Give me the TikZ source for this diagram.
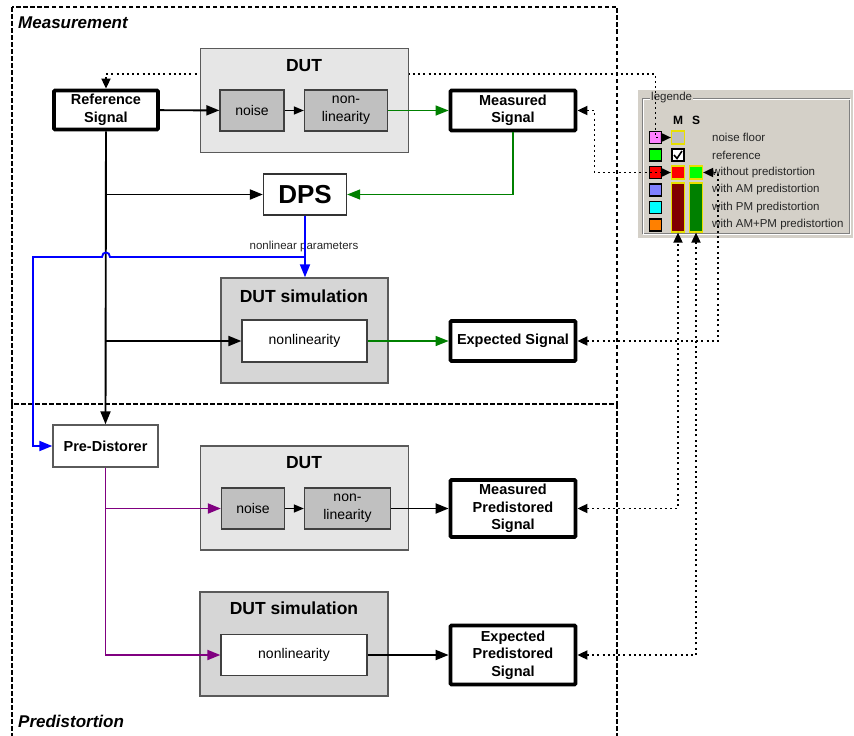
\documentclass[tikz,border=0pt]{standalone}
\usepackage{fontspec}
\setmainfont{Liberation Sans}
\usetikzlibrary{arrows.meta}
\definecolor{dutgray}{HTML}{E6E6E6}
\definecolor{blockgray}{HTML}{C0C0C0}
\definecolor{simgray}{HTML}{D6D6D6}
\definecolor{frame}{HTML}{5A5A5A}
\definecolor{sgreen}{HTML}{008000}
\definecolor{sblue}{HTML}{0000FF}
\definecolor{spurple}{HTML}{800080}
\definecolor{panel}{HTML}{D4D0C8}
\definecolor{legyellow}{HTML}{E8E000}
\definecolor{lpink}{HTML}{FF80FF}
\definecolor{lgreen}{HTML}{00FF00}
\definecolor{lred}{HTML}{FF0000}
\definecolor{lblue}{HTML}{8080FF}
\definecolor{lcyan}{HTML}{00FFFF}
\definecolor{lorange}{HTML}{FF8000}
\definecolor{dred}{HTML}{800000}
\definecolor{dgreen}{HTML}{008000}
\newcommand\fsz[2]{\fontsize{#1}{#2}\selectfont}
\pgfdeclarelayer{legendlayer}
\pgfdeclarelayer{behind}
\pgfsetlayers{legendlayer,behind,main}
\tikzset{
  region/.style={line width=1.6pt, dash pattern=on 4.5pt off 2.5pt},
  regiontitle/.style={anchor=west, inner sep=0pt, font=\bfseries\itshape\fsz{17}{20}},
  sigbox/.style={draw, line width=3.8pt, rounded corners=1pt, fill=white, align=center,
    inner sep=0pt, font=\bfseries\fsz{14.5}{17.5}},
  plainbox/.style={draw=frame, line width=1.4pt, fill=white, align=center, inner sep=0pt,
    font=\bfseries\fsz{14.5}{17.5}},
  dutbox/.style={draw=frame, line width=1.4pt, fill=dutgray, inner sep=0pt},
  simbox/.style={draw=frame, line width=1.4pt, fill=simgray, inner sep=0pt},
  subblock/.style={draw=black!75, line width=1.3pt, fill=blockgray, align=center, inner sep=0pt,
    font=\fsz{14}{18}},
  simblock/.style={draw=black!75, line width=1.3pt, fill=white, align=center, inner sep=0pt,
    font=\fsz{14}{18}},
  boxtitle/.style={inner sep=0pt, font=\bfseries\fsz{17.5}{20}},
  conn/.style={line width=1.9pt, -{Triangle[length=13pt,width=10pt]}},
  thinconn/.style={line width=1.5pt, -{Triangle[length=13pt,width=10pt]}},
  smallconn/.style={line width=1.4pt, -{Triangle[length=10pt,width=8pt]}},
  dotlink/.style={line width=1.8pt, dash pattern=on 2pt off 3.2pt,
    {Triangle[length=10pt,width=9pt]}-{Triangle[length=10pt,width=9pt]}},
  lsq/.style={draw=black, line width=1.2pt, minimum size=12pt, inner sep=0pt},
  msq/.style={draw=legyellow, line width=1.2pt, minimum size=13pt, inner sep=0pt},
  legtext/.style={anchor=west, inner sep=0pt, text=black!85, font=\fsz{11.5}{13}},
}
\begin{document}
\begin{tikzpicture}[x=1pt,y=-1pt]
\useasboundingbox (0,0) rectangle (854,736);

% ---------- legend panel ----------
\begin{pgfonlayer}{legendlayer}
  \fill[panel] (638,90) rectangle (853,238);
  \draw[gray, line width=0.8pt] (642,98) rectangle (849,233);
  \draw[white, line width=0.8pt] (643,99) rectangle (850,234);
  \node[fill=panel, inner sep=1pt, anchor=west, text=black!85, font=\fsz{11.5}{13}] (legtitle) at (650,98) {legende};
  \node[inner sep=0pt, font=\bfseries\fsz{12}{14}] (legM) at (678,120) {M};
  \node[inner sep=0pt, font=\bfseries\fsz{12}{14}] (legS) at (696,120) {S};
  % colour keys
  \node[lsq, fill=lpink]   (lc1) at (655.5,137.5) {};
  \node[lsq, fill=lgreen]  (lc2) at (655.5,155) {};
  \node[lsq, fill=lred]    (lc3) at (655.5,172.5) {};
  \node[lsq, fill=lblue]   (lc4) at (655.5,190) {};
  \node[lsq, fill=lcyan]   (lc5) at (655.5,207.5) {};
  \node[lsq, fill=lorange] (lc6) at (655.5,225) {};
  % measured / simulated selectors
  \node[msq, fill=blockgray] (lm1) at (678,137.5) {};
  \node[draw=black, line width=1.5pt, fill=white, minimum size=12pt, inner sep=0pt] (lm2) at (678,155) {};
  \draw[line width=1.6pt] (674,155) -- (677,158.5) -- (682,151);
  \node[msq, fill=lred]   (lm3) at (678,172.5) {};
  \node[msq, fill=lgreen] (ls3) at (696,172.5) {};
  \node[msq, fill=dred, minimum height=49pt]   (lmbar) at (678,207.5) {};
  \node[msq, fill=dgreen, minimum height=49pt] (lsbar) at (696,207.5) {};
  % labels
  \node[legtext] (lt1) at (712,137.5) {noise floor};
  \node[legtext] (lt2) at (712,155) {reference};
  \node[legtext] (lt3) at (712,172.5) {without predistortion};
  \node[legtext] (lt4) at (712,190) {with AM predistortion};
  \node[legtext] (lt5) at (712,207.5) {with PM predistortion};
  \node[legtext] (lt6) at (712,225) {with AM+PM predistortion};
\end{pgfonlayer}

% ---------- regions ----------
\draw[region] (12,7) rectangle (617,404);
\draw[region] (12,404) -- (12,736);
\draw[region] (617,404) -- (617,736);
\node[regiontitle] (meastitle) at (18,23) {Measurement};
\node[regiontitle] (predtitle) at (18,721) {Predistortion};

% ---------- measurement part ----------
\node[sigbox, minimum width=104pt, minimum height=39pt] (refsig) at (106,110) {Reference\\Signal};
\node[dutbox, minimum width=208pt, minimum height=104pt] (dut1) at (304.5,100.5) {};
\node[boxtitle] (dut1lbl) at (304,66) {DUT};
\node[subblock, minimum width=64pt, minimum height=41pt] (noise1) at (252,110.5) {noise};
\node[subblock, minimum width=83pt, minimum height=41pt] (nl1) at (346,110.5) {non-\\linearity};
\node[sigbox, minimum width=125pt, minimum height=40pt] (measig) at (513,110.5) {Measured\\Signal};
\node[draw=black!80, line width=1.3pt, fill=white, inner sep=0pt, minimum width=83pt, minimum height=41pt,
      font=\bfseries\fsz{26}{28}] (dps) at (305,194.5) {DPS};
\node[simbox, minimum width=167pt, minimum height=105pt] (sim1) at (304.5,330.5) {};
\node[boxtitle] (sim1lbl) at (304,296) {DUT simulation};
\node[simblock, minimum width=125pt, minimum height=42pt] (simnl1) at (304.5,341) {nonlinearity};
\node[sigbox, minimum width=125pt, minimum height=40pt] (expsig) at (513,341) {Expected Signal};
\node[inner sep=0pt, text=black!85, font=\fsz{11.5}{13}] (nlparam) at (304,247) {nonlinear parameters};

% ---------- predistortion part ----------
\node[plainbox, minimum width=105pt, minimum height=42pt] (predist) at (105.5,446) {Pre-Distorer};
\node[dutbox, minimum width=208pt, minimum height=104pt] (dut2) at (304.5,498) {};
\node[boxtitle] (dut2lbl) at (304,463) {DUT};
\node[subblock, minimum width=63pt, minimum height=41pt] (noise2) at (253,508.5) {noise};
\node[subblock, minimum width=86pt, minimum height=41pt] (nl2) at (347.5,508.5) {non-\\linearity};
\node[sigbox, minimum width=125pt, minimum height=57pt] (mps) at (513,508.5) {Measured\\Predistored\\Signal};
\node[simbox, minimum width=188pt, minimum height=104pt] (sim2) at (294,644) {};
\node[boxtitle] (sim2lbl) at (294,608.5) {DUT simulation};
\node[simblock, minimum width=146pt, minimum height=41pt] (simnl2) at (294,655) {nonlinearity};
\node[sigbox, minimum width=125pt, minimum height=59pt] (eps) at (513,655) {Expected\\Predistored\\Signal};

% ---------- signal flow ----------
\draw[conn] (refsig) -- (noise1);
\draw[smallconn] (noise1) -- (nl1);
\draw[thinconn, sgreen] (nl1) -- (measig);
\draw[thinconn, sgreen] (measig.south) |- (dps.east);
\draw[conn] (refsig.south) -- (predist.north);
\coordinate (tapdps) at (106,194.5);
\coordinate (tapsim) at (106,341);
\draw[conn] (tapdps) -- (dps.west);
\draw[conn] (tapsim) -- (simnl1.west);
\draw[thinconn, sgreen] (simnl1) -- (expsig);

% nonlinear parameters to both simulation and pre-distorer
\draw[conn, sblue] (dps.south) -- (dps.south |- sim1.north);
\coordinate (psplit) at (305,257);
\coordinate (pcorner) at (33,257);
\draw[conn, sblue] (psplit) -- (110,257) .. controls (110,251) and (102,251) .. (102,257)
  -- (pcorner) |- (predist.west);

\draw[conn, spurple] (predist.south) |- (simnl2.west);
\coordinate (tapdut2) at (106,508.5);
\draw[conn, spurple] (tapdut2) -- (noise2.west);
\draw[smallconn] (noise2) -- (nl2);
\draw[conn] (nl2) -- (mps);
\draw[conn] (simnl2) -- (eps);

% ---------- legend links ----------
\coordinate (refturn) at (655.5,74);
\begin{pgfonlayer}{behind}
  \draw[dotlink] (refsig.north) |- (refturn) |- (lm1.west);
\end{pgfonlayer}
\draw[dotlink] (measig.east) -- ++(17,0) |- (lm3.west);
\coordinate (expturn) at (718,172.5);
\draw[dotlink] (expsig.east) -| (expturn) -- (ls3.east);
\draw[dotlink] (mps.east) -| (lmbar.south);
\draw[dotlink] (eps.east) -| (lsbar.south);
\end{tikzpicture}
\end{document}
